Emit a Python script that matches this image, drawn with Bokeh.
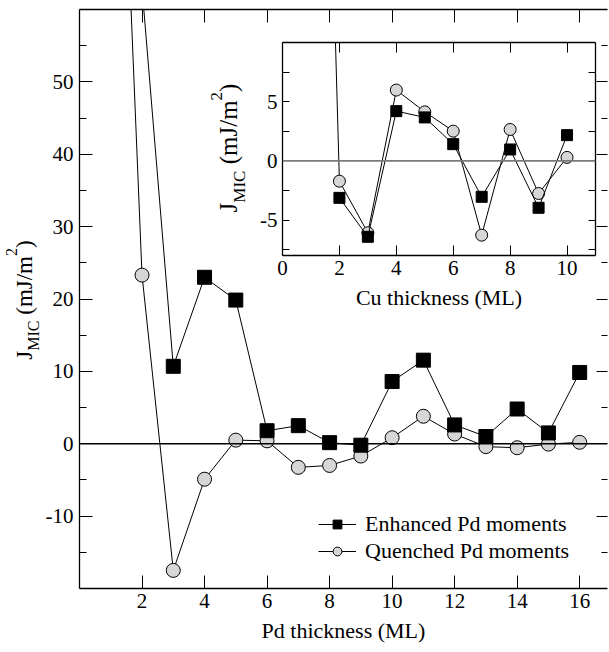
from bokeh.plotting import figure
from bokeh.models import (Range1d, LinearAxis, FixedTicker, Span, Div,
                          Legend, LegendItem)
from bokeh.layouts import column
from bokeh.embed import file_html
from bokeh.resources import INLINE

FONT = "Liberation Serif"

# ---------------- data ----------------
# Main panel: J_MIC vs Pd thickness (ML)
pd_x_enh = [2, 3, 4, 5, 6, 7, 8, 9, 10, 11, 12, 13, 14, 15, 16]
pd_enh = [63.0, 10.7, 23.0, 19.85, 1.8, 2.5, 0.15, -0.2, 8.6, 11.55, 2.6, 1.0, 4.8, 1.5, 9.85]
pd_x_que = [1, 2, 3, 4, 5, 6, 7, 8, 9, 10, 11, 12, 13, 14, 15, 16]
pd_que = [128.0, 23.3, -17.5, -4.9, 0.5, 0.4, -3.26, -3.0, -1.7, 0.83, 3.8, 1.34, -0.4, -0.55, -0.05, 0.2]

# Inset: J_MIC vs Cu thickness (ML)
cu_x_enh = [2, 3, 4, 5, 6, 7, 8, 9, 10]
cu_enh = [-3.13, -6.42, 4.2, 3.67, 1.41, -3.04, 0.96, -3.97, 2.17]
cu_x_que = [1, 2, 3, 4, 5, 6, 7, 8, 9, 10]
cu_que = [83.0, -1.72, -6.08, 5.98, 4.14, 2.51, -6.28, 2.65, -2.76, 0.29]

series_labels = ["Enhanced Pd moments", "Quenched Pd moments"]

main_xticks = [2, 4, 6, 8, 10, 12, 14, 16]
main_yticks = [-10, 0, 10, 20, 30, 40, 50]
main_yminor = [-15, -5, 5, 15, 25, 35, 45, 55]
inset_xticks = [0, 2, 4, 6, 8, 10]
inset_yticks = [-5, 0, 5]
inset_yminor = [-7.5, -2.5, 2.5, 7.5]

CIRCLE_FILL = "#d6d6d6"


def style_axis(ax, tick_in, minor_in=0, label_size="21px", standoff=4, line_width=1.3):
    ax.major_tick_in = tick_in
    ax.major_tick_out = 0
    ax.minor_tick_in = minor_in
    ax.minor_tick_out = 0
    ax.axis_line_color = "black"
    ax.axis_line_width = line_width
    ax.major_tick_line_color = "black"
    ax.major_tick_line_width = 1
    ax.minor_tick_line_color = "black"
    ax.minor_tick_line_width = 1
    ax.major_label_text_font = FONT
    ax.major_label_text_font_size = label_size
    ax.major_label_text_color = "black"
    ax.major_label_standoff = standoff
    ax.axis_label_text_font = FONT
    ax.axis_label_text_font_style = "normal"
    ax.axis_label_text_color = "black"


def hide_labels(ax, ticks):
    ax.major_label_overrides = {t: "" for t in ticks}
    ax.major_label_text_font_size = "0px"
    ax.major_label_standoff = 0


def y_title(cx, cy, w, h, big, small, sub_drop, sup_rise):
    """Rotated HTML title  J_MIC (mJ/m^2)  centred on (cx, cy) in page pixels."""
    html = (
        f'<div style="width:{w}px;height:{h}px;line-height:{h}px;text-align:center;'
        f'white-space:nowrap;font-family:\'{FONT}\';font-size:{big}px;color:black;">'
        f'J<span style="font-size:{small}px;line-height:0;vertical-align:-{sub_drop}px;">MIC</span>'
        f' (mJ/m<span style="font-size:{small}px;line-height:0;vertical-align:{sup_rise}px;">2</span>)'
        f'</div>'
    )
    d = Div(text=html, width=w, height=h, margin=0)
    d.styles = {"position": "absolute", "left": f"{cx - w / 2:.1f}px",
                "top": f"{cy - h / 2:.1f}px", "transform": "rotate(-90deg)",
                "transform-origin": "50% 50%", "padding": "0", "margin": "0"}
    return d


# ---------------- main figure ----------------
# (plots in one column share their left/right border widths, so the inset uses
#  the same left border (79) and a tiny right border (2) as the main figure)
p = figure(width=609, height=652, x_range=Range1d(0, 16.89), y_range=Range1d(-20, 60),
           output_backend="svg", toolbar_location=None,
           min_border_left=79, min_border_right=2, min_border_top=9, min_border_bottom=64)
p.outline_line_color = None
p.grid.visible = False
p.background_fill_color = "white"
p.border_fill_color = "white"

xb = p.xaxis[0]
xb.ticker = FixedTicker(ticks=main_xticks, minor_ticks=[])
style_axis(xb, 13, 0, "21px", 5)
xb.axis_label = "Pd thickness (ML)"
xb.axis_label_text_font_size = "22px"
xb.axis_label_standoff = 7

yl = p.yaxis[0]
yl.ticker = FixedTicker(ticks=main_yticks, minor_ticks=main_yminor)
style_axis(yl, 13, 7, "21px", 6)
yl.major_label_overrides = {t: ("-%d" % -t if t < 0 else str(t)) for t in main_yticks}

xt = LinearAxis(ticker=FixedTicker(ticks=main_xticks, minor_ticks=[]))
style_axis(xt, 13, 0)
hide_labels(xt, main_xticks)
p.add_layout(xt, "above")

yr = LinearAxis(ticker=FixedTicker(ticks=main_yticks, minor_ticks=main_yminor))
style_axis(yr, 11, 6)
yr.axis_line_color = None
hide_labels(yr, main_yticks)
p.add_layout(yr, "right")

p.add_layout(Span(location=0, dimension="width", line_color="black", line_width=1.3))

lq = p.line(pd_x_que, pd_que, line_color="black", line_width=1)
sq = p.scatter(pd_x_que, pd_que, marker="circle", size=14, fill_color=CIRCLE_FILL,
               line_color="black", line_width=1)
le = p.line(pd_x_enh, pd_enh, line_color="black", line_width=1)
se = p.scatter(pd_x_enh, pd_enh, marker="square", size=14, fill_color="black",
               line_color="black", line_width=1)

legend = Legend(items=[LegendItem(label=series_labels[0], renderers=[le, se]),
                       LegendItem(label=series_labels[1], renderers=[lq, sq])],
                location=(239, 24), orientation="vertical",
                glyph_width=38, glyph_height=22, label_height=22, spacing=1,
                label_standoff=9, padding=0, margin=0,
                label_text_font=FONT, label_text_font_size="22px", label_text_color="black",
                border_line_color=None, background_fill_alpha=0)
p.add_layout(legend, "center")

# ---------------- inset figure ----------------
ins = figure(frame_width=313, frame_height=213, x_range=Range1d(0, 11), y_range=Range1d(-8, 10),
             output_backend="svg", toolbar_location=None,
             min_border_left=79, min_border_right=2, min_border_top=7, min_border_bottom=10)
ins.outline_line_color = None
ins.grid.visible = False
ins.background_fill_color = "white"
ins.border_fill_color = None

ixb = ins.xaxis[0]
ixb.ticker = FixedTicker(ticks=inset_xticks, minor_ticks=[])
style_axis(ixb, 10, 0, "21px", 5)
ixb.axis_label = "Cu thickness (ML)"
ixb.axis_label_text_font_size = "22px"
ixb.axis_label_standoff = 7

iyl = ins.yaxis[0]
iyl.ticker = FixedTicker(ticks=inset_yticks, minor_ticks=inset_yminor)
style_axis(iyl, 7, 7, "21px", 5)
iyl.major_label_overrides = {t: ("-%d" % -t if t < 0 else str(t)) for t in inset_yticks}

ixt = LinearAxis(ticker=FixedTicker(ticks=inset_xticks, minor_ticks=[]))
style_axis(ixt, 10, 0)
hide_labels(ixt, inset_xticks)
ins.add_layout(ixt, "above")

iyr = LinearAxis(ticker=FixedTicker(ticks=inset_yticks, minor_ticks=inset_yminor))
style_axis(iyr, 7, 7)
hide_labels(iyr, inset_yticks)
ins.add_layout(iyr, "right")

ins.add_layout(Span(location=0, dimension="width", line_color="#7a7a7a", line_width=1.6))

ins.line(cu_x_que, cu_que, line_color="black", line_width=1)
ins.scatter(cu_x_que, cu_que, marker="circle", size=12, fill_color=CIRCLE_FILL,
            line_color="black", line_width=1)
ins.line(cu_x_enh, cu_enh, line_color="black", line_width=1)
ins.scatter(cu_x_enh, cu_enh, marker="square", size=11, fill_color="black",
            line_color="black", line_width=1)

ins.styles = {"position": "absolute", "left": "203px", "top": "35px"}

# ---------------- rotated y titles (real HTML text) ----------------
t_main = y_title(25.3, 299.5, 140, 30, 23, 16, 7, 15)
t_ins = y_title(228.5, 148.0, 150, 32, 25, 17, 8, 15)

layout = column(p, ins, t_main, t_ins)
layout.styles = {"position": "relative"}

open("out.html", "w").write(file_html(layout, INLINE))
